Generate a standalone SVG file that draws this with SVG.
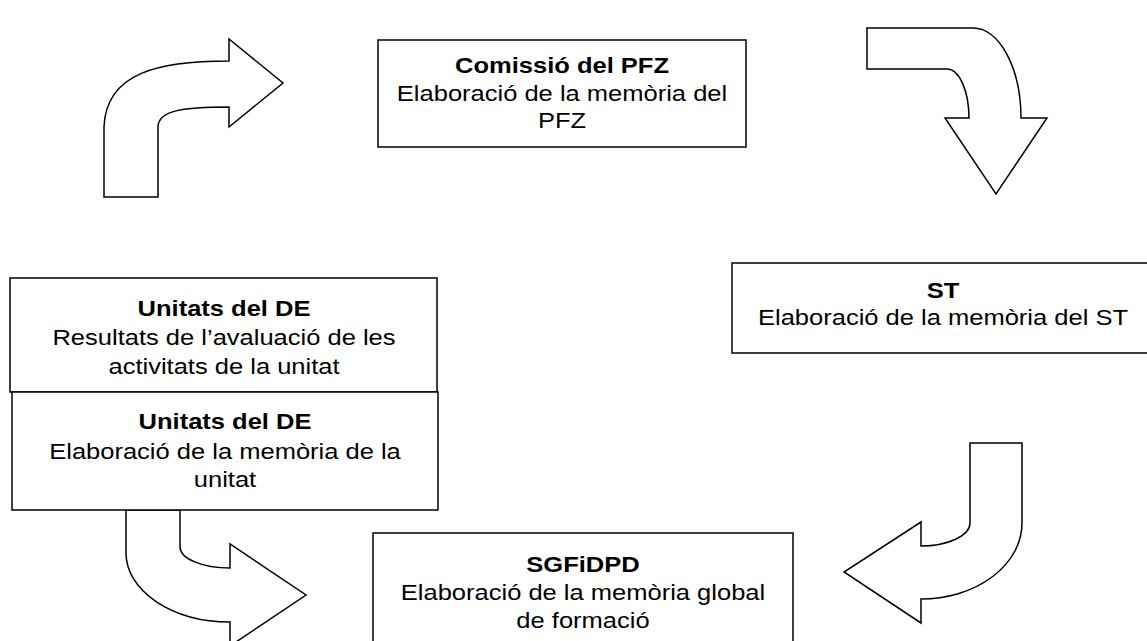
<svg xmlns="http://www.w3.org/2000/svg" width="1147" height="641" viewBox="0 0 1147 641">
<style>
.box{fill:#fff;stroke:#000;stroke-width:1.5}
.arr{fill:#fff;stroke:#000;stroke-width:1.5;stroke-linejoin:miter}
text{font-family:"Liberation Sans",Arial,sans-serif;font-size:22px;fill:#000;text-anchor:middle}
.b{font-weight:bold}
</style>
<rect width="1147" height="641" fill="#fff"/>
<g id="connectors">
<path class="arr" d="M104,197 L104,127 C106,72 160,61 229,61 L229,39 L283,83 L229,127 L229,107 C185,107 158,110 158,127 L158,197 Z"/>
<path class="arr" d="M867,28 L973,28 A48,90 0 0 1 1021,118 L1047,118 L996,194 L945,118 L969,118 A22,49 0 0 0 947,69 L867,69 Z"/>
<path class="arr" d="M970,443 L1022,443 L1022,523 A101,76 0 0 1 921,599 L921,623 L844,572 L921,522 L921,546 A49,23 0 0 0 970,523 Z"/>
<path class="arr" d="M126,510 L126,553 A104,69 0 0 0 230,622 L230,646 L306,595 L230,544 L230,568 A50,21 0 0 1 180,547 L180,510 Z"/>
</g>
<g id="comissio">
<rect class="box" x="378" y="40" width="368" height="107"/>
<text transform="matrix(1.16 0 0 1 562 0)"><tspan class="b" x="0" y="73">Comissió del PFZ</tspan><tspan x="0" y="101">Elaboració de la memòria del</tspan><tspan x="0" y="128">PFZ</tspan></text>
</g>
<g id="st">
<rect class="box" x="732" y="263" width="430" height="90"/>
<text transform="matrix(1.16 0 0 1 943 0)"><tspan class="b" x="0" y="298">ST</tspan><tspan x="0" y="325">Elaboració de la memòria del ST</tspan></text>
</g>
<g id="unitats-resultats">
<rect class="box" x="10" y="278" width="427" height="114"/>
<text transform="matrix(1.16 0 0 1 224 0)"><tspan class="b" x="0" y="316">Unitats del DE</tspan><tspan x="0" y="345">Resultats de l’avaluació de les</tspan><tspan x="0" y="374">activitats de la unitat</tspan></text>
</g>
<g id="unitats-memoria">
<rect class="box" x="12" y="392" width="426" height="118"/>
<text transform="matrix(1.16 0 0 1 225 0)"><tspan class="b" x="0" y="429">Unitats del DE</tspan><tspan x="0" y="459">Elaboració de la memòria de la</tspan><tspan x="0" y="487">unitat</tspan></text>
</g>
<g id="sgfidpd">
<rect class="box" x="373" y="533" width="420" height="120"/>
<text transform="matrix(1.16 0 0 1 583 0)"><tspan class="b" x="0" y="572">SGFiDPD</tspan><tspan x="0" y="600">Elaboració de la memòria global</tspan><tspan x="0" y="628">de formació</tspan></text>
</g>
</svg>
